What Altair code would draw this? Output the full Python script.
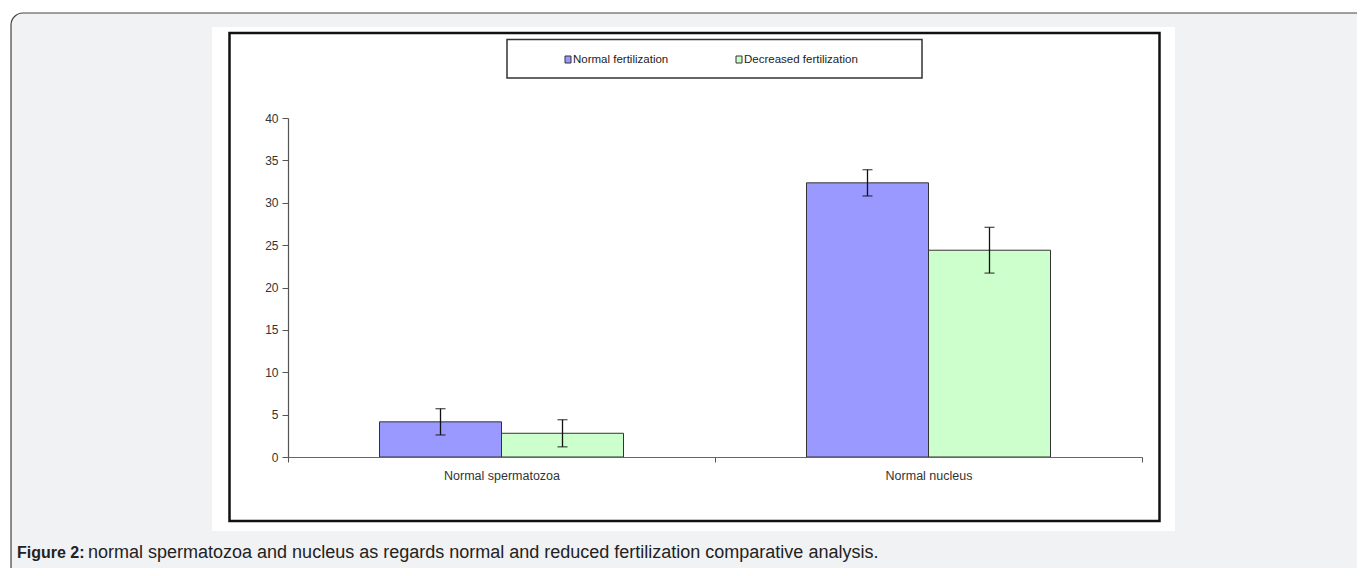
import altair as alt
import pandas as pd

categories = ["Normal spermatozoa", "Normal nucleus"]
series = ["Normal fertilization", "Decreased fertilization"]
normal_vals = [4.15, 32.35]
decreased_vals = [2.8, 24.4]
normal_err = [1.55, 1.55]
decreased_err = [1.6, 2.7]
colors = ["#9999ff", "#ccffcc"]
y_ticks = [0, 5, 10, 15, 20, 25, 30, 35, 40]
caption_bold = "Figure 2:"
caption_text = "normal spermatozoa and nucleus as regards  normal and reduced fertilization comparative analysis."

rows = []
for i, c in enumerate(categories):
    rows.append(dict(cat=c, series=series[0], value=normal_vals[i],
                     lo=normal_vals[i] - normal_err[i], hi=normal_vals[i] + normal_err[i]))
    rows.append(dict(cat=c, series=series[1], value=decreased_vals[i],
                     lo=decreased_vals[i] - decreased_err[i], hi=decreased_vals[i] + decreased_err[i]))
df = pd.DataFrame(rows)
one = pd.DataFrame({"k": [0]})

# page position of the plot origin
X0, Y0 = 288, 118
W, H = 854, 339
FONT = "Liberation Sans"


def px(x):
    return x - X0


def py(y):
    return y - Y0


x_scale = alt.Scale(domain=categories, paddingInner=0, paddingOuter=0)
off_scale = alt.Scale(domain=series, paddingInner=0, paddingOuter=0.75)
y_scale = alt.Scale(domain=[0, 40], nice=False)

x_enc = alt.X("cat:N", scale=x_scale, sort=categories,
              axis=alt.Axis(title=None, labelAngle=0, tickBand="extent", tickSize=5,
                            labelFontSize=12.5, labelPadding=7, labelColor="#333",
                            labelFont=FONT, domainColor="#666", tickColor="#555",
                            domainWidth=1.2, zindex=2))
xoff = alt.XOffset("series:N", scale=off_scale, sort=series)
y_enc = alt.Y("value:Q", scale=y_scale,
              axis=alt.Axis(title=None, values=y_ticks, grid=False, tickSize=6,
                            labelFontSize=12, labelPadding=4, labelColor="#333",
                            labelFont=FONT, domainColor="#555", tickColor="#555",
                            domainWidth=1.2, zindex=2))
color = alt.Color("series:N", scale=alt.Scale(domain=series, range=colors), legend=None)

base1 = alt.Chart(one)

panel = base1.mark_rect(fill="#f1f2f4", stroke="#444", strokeWidth=1.2, cornerRadius=12).encode(
    x=alt.value(px(11)), x2=alt.value(px(1400)), y=alt.value(py(13)), y2=alt.value(py(620)))
white = base1.mark_rect(fill="white").encode(
    x=alt.value(px(212)), x2=alt.value(px(1175)), y=alt.value(py(27)), y2=alt.value(py(531)))
frame = base1.mark_rect(fill="white", stroke="#111", strokeWidth=2.5).encode(
    x=alt.value(px(229.5)), x2=alt.value(px(1159.5)), y=alt.value(py(33)), y2=alt.value(py(521)))
legbox = base1.mark_rect(fill="white", stroke="#333", strokeWidth=1.5).encode(
    x=alt.value(px(507)), x2=alt.value(px(922)), y=alt.value(py(39.5)), y2=alt.value(py(78)))

sw1 = base1.mark_rect(fill=colors[0], stroke="#333", strokeWidth=1).encode(
    x=alt.value(px(565)), x2=alt.value(px(571)), y=alt.value(py(56)), y2=alt.value(py(63)))
sw2 = base1.mark_rect(fill=colors[1], stroke="#333", strokeWidth=1).encode(
    x=alt.value(px(736)), x2=alt.value(px(742)), y=alt.value(py(56)), y2=alt.value(py(63)))
lt1 = base1.mark_text(text=series[0], align="left", baseline="middle", fontSize=11.5,
                      font=FONT, color="#222").encode(x=alt.value(px(573)), y=alt.value(py(59.5)))
lt2 = base1.mark_text(text=series[1], align="left", baseline="middle", fontSize=11.5,
                      font=FONT, color="#222").encode(x=alt.value(px(744)), y=alt.value(py(59.5)))

cap1 = base1.mark_text(text=caption_bold, align="left", baseline="middle", fontSize=16,
                       fontWeight="bold", font=FONT, color="#222").encode(
    x=alt.value(px(17)), y=alt.value(py(553)))
cap2 = base1.mark_text(text=caption_text, align="left", baseline="middle", fontSize=18,
                       font=FONT, color="#222").encode(
    x=alt.value(px(88)), y=alt.value(py(553)))

bars = alt.Chart(df).mark_bar(stroke="#333", strokeWidth=1).encode(x_enc, xoff, y_enc, color)
rules = alt.Chart(df).mark_rule(color="#111", strokeWidth=1.3).encode(
    x=alt.X("cat:N", scale=x_scale, sort=categories), xOffset=xoff,
    y=alt.Y("lo:Q", scale=y_scale), y2="hi:Q")
caps = alt.Chart(df).transform_fold(["lo", "hi"], as_=["end", "v"]).mark_tick(
    color="#111", size=10, thickness=1.3).encode(
    x=alt.X("cat:N", scale=x_scale, sort=categories), xOffset=xoff,
    y=alt.Y("v:Q", scale=y_scale))

chart = alt.layer(panel, white, frame, legbox, sw1, sw2, lt1, lt2, cap1, cap2,
                  bars, rules, caps).properties(
    width=W, height=H,
    autosize=alt.AutoSizeParams(type="none"),
    padding={"left": 280, "top": 110, "right": 215, "bottom": 111},
    background="white",
).configure_view(stroke=None)

chart.save("out.html", embed_options={"renderer": "svg", "actions": False})
